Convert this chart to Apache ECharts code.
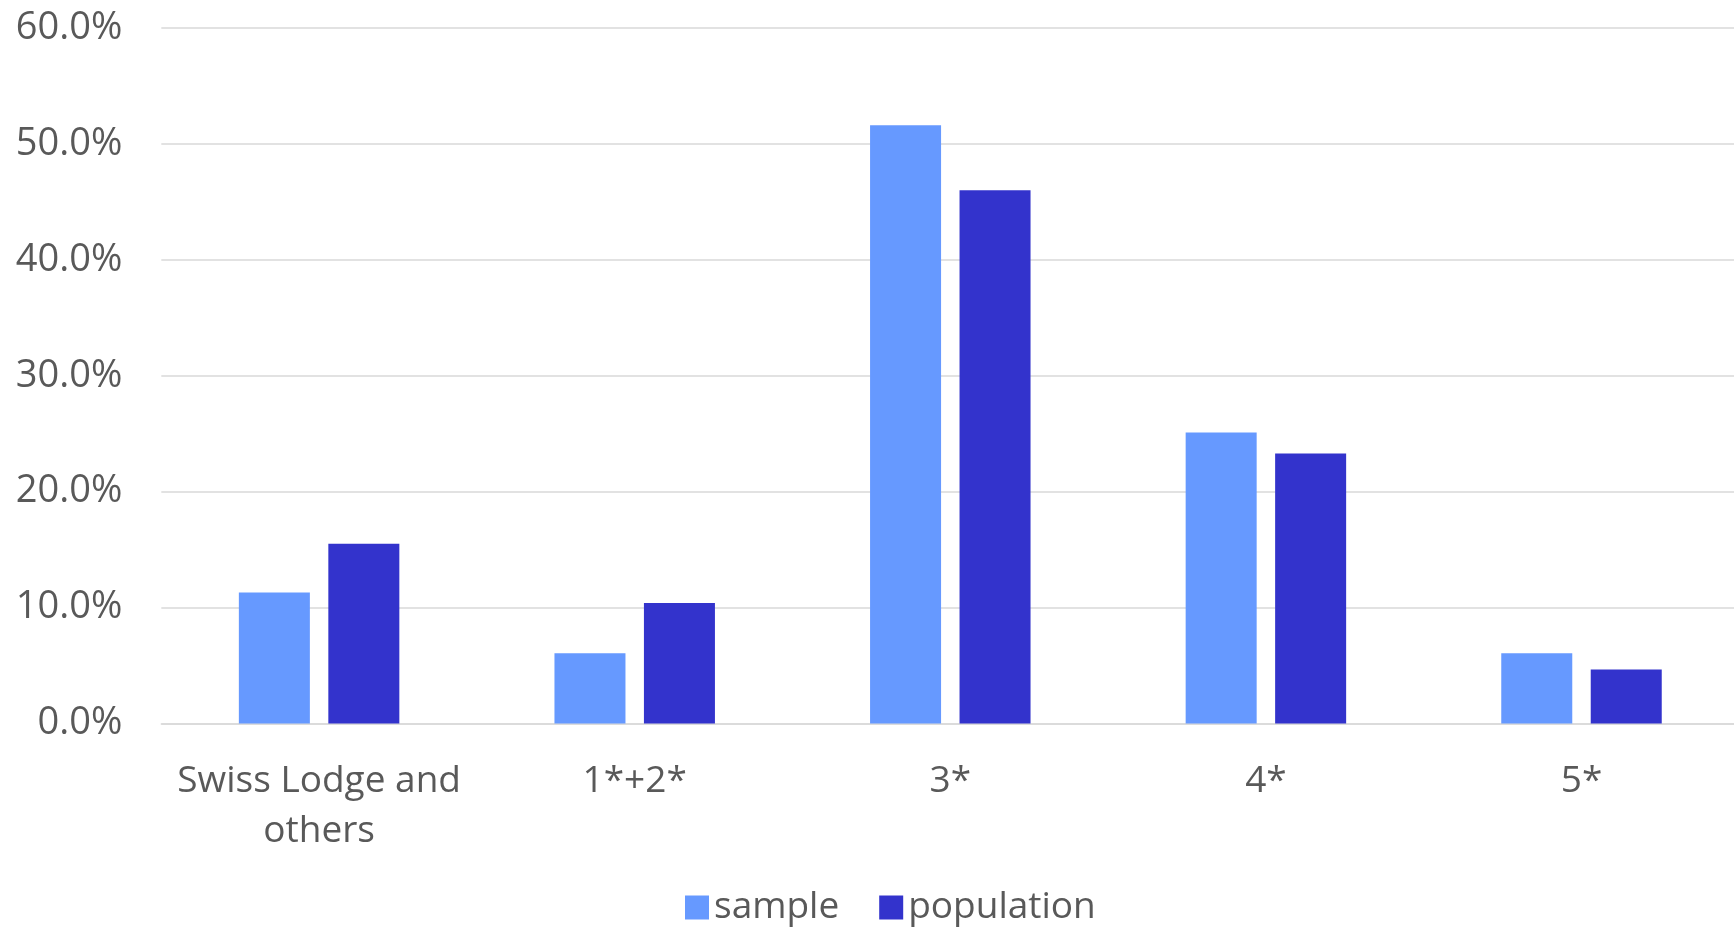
<!DOCTYPE html>
<html>
<head>
<meta charset="utf-8">
<script src="https://cdn.jsdelivr.net/npm/echarts@6/dist/echarts.min.js"></script>
<style>
html,body{margin:0;padding:0;background:#fff;overflow:hidden;}
#chart{width:1740px;height:928px;}
</style>
</head>
<body>
<div id="chart"></div>
<script>
const categories = ['Swiss Lodge and\nothers', '1*+2*', '3*', '4*', '5*'];
const sampleValues = [11.3, 6.05, 51.6, 25.1, 6.05];
const populationValues = [15.5, 10.4, 46.0, 23.3, 4.65];
const seriesNames = ['sample', 'population'];

const chart = echarts.init(document.getElementById('chart'));
const textColor = '#595959';
const fontFamily = '"Open Sans", "Noto Sans", sans-serif';
chart.setOption({
  animation: false,
  backgroundColor: '#ffffff',
  grid: { left: 161.3, right: 0.7, top: 28, bottom: 204.5, containLabel: false },
  legend: {
    data: seriesNames,
    left: 680,
    top: 884,
    itemWidth: 24,
    itemHeight: 24,
    itemGap: 40,
    icon: 'rect',
    textStyle: { color: textColor, fontSize: 37, fontFamily: fontFamily }
  },
  xAxis: {
    type: 'category',
    data: categories,
    axisLine: { lineStyle: { color: '#d9d9d9', width: 1.5 } },
    axisTick: { show: false },
    axisLabel: { color: textColor, fontSize: 37, fontFamily: fontFamily, lineHeight: 50, margin: 33, interval: 0 }
  },
  yAxis: {
    type: 'value',
    min: 0,
    max: 60,
    interval: 10,
    axisLine: { show: false },
    axisTick: { show: false },
    splitLine: { lineStyle: { color: '#d9d9d9', width: 1.5 } },
    axisLabel: {
      color: textColor, fontSize: 38, fontFamily: fontFamily, margin: 39,
      formatter: v => v.toFixed(1) + '%'
    }
  },
  series: [
    { name: seriesNames[0], type: 'bar', data: sampleValues, barWidth: '22.5%', barGap: '26%',
      itemStyle: { color: '#6699ff' } },
    { name: seriesNames[1], type: 'bar', data: populationValues, barWidth: '22.5%', barGap: '26%',
      itemStyle: { color: '#3333cc' } }
  ]
});
</script>
</body>
</html>
